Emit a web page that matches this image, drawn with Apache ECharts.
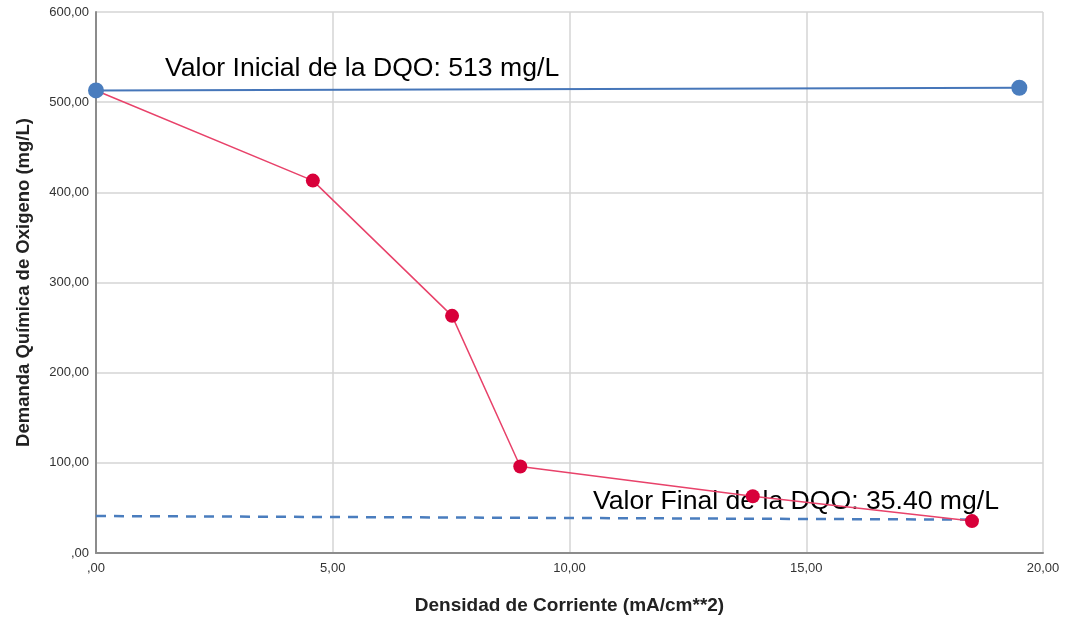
<!DOCTYPE html>
<html>
<head>
<meta charset="utf-8">
<script src="https://cdn.jsdelivr.net/npm/echarts@6/dist/echarts.min.js"></script>
<style>
  html, body { margin: 0; padding: 0; background: #fff; }
  #chart { width: 1066px; height: 619px; }
</style>
</head>
<body>
<div id="chart"></div>
<script>
// Current density (mA/cm**2) and measured COD (mg/L)
const densidad = [0, 4.58, 7.52, 8.96, 13.87, 18.5];
const dqo = [513, 413, 263, 96, 63, 35.4];

// Reference line for the initial COD
const inicialX = [0, 19.5];
const inicialY = [513, 516];

// Reference line for the final COD
const finalX = [0, 18.5];
const finalY = [41, 37];

const xTicks = [0, 5, 10, 15, 20];
const yTicks = [0, 100, 200, 300, 400, 500, 600];

const textoInicial = 'Valor Inicial de la DQO: 513 mg/L';
const textoFinal = 'Valor Final de la DQO: 35.40 mg/L';

const fmt = v => v === 0 ? ',00' : v.toFixed(2).replace('.', ',');
const pairs = (xs, ys) => xs.map((x, i) => [x, ys[i]]);
const FONT = 'Liberation Sans, Arial, sans-serif';

const chart = echarts.init(document.getElementById('chart'));
chart.setOption({
  animation: false,
  textStyle: { fontFamily: FONT },
  grid: { left: 96, right: 23, top: 12, bottom: 66, containLabel: false, outerBoundsMode: 'none' },
  xAxis: {
    type: 'value',
    min: xTicks[0], max: xTicks[xTicks.length - 1], interval: 5,
    name: 'Densidad de Corriente (mA/cm**2)',
    nameLocation: 'middle', nameGap: 43,
    nameTextStyle: { fontSize: 19, fontWeight: 'bold', color: '#222' },
    axisLine: { show: true, onZero: false, lineStyle: { color: '#8c8c8c', width: 2 } },
    axisTick: { show: false },
    axisLabel: { formatter: fmt, fontSize: 13, color: '#333', margin: 9 },
    splitLine: { show: true, lineStyle: { color: '#d4d4d4', width: 1.5 } }
  },
  yAxis: {
    type: 'value',
    min: yTicks[0], max: yTicks[yTicks.length - 1], interval: 100,
    name: 'Demanda Química de Oxigeno (mg/L)',
    nameLocation: 'middle', nameGap: 63, nameRotate: 90,
    nameTextStyle: { fontSize: 18.5, fontWeight: 'bold', color: '#222' },
    axisLine: { show: true, lineStyle: { color: '#8c8c8c', width: 2 } },
    axisTick: { show: false },
    axisLabel: { formatter: fmt, fontSize: 13, color: '#333', margin: 7, padding: [5, 0, 0, 0] },
    splitLine: { show: true, lineStyle: { color: '#d4d4d4', width: 1.5 } }
  },
  series: [
    {
      name: 'final',
      type: 'line',
      data: pairs(finalX, finalY),
      symbol: 'none',
      lineStyle: { color: '#4a7dbe', width: 2.5, type: [10, 8] },
      z: 3
    },
    {
      name: 'DQO',
      type: 'line',
      data: pairs(densidad, dqo),
      symbol: 'circle', symbolSize: 14,
      lineStyle: { color: '#e8426a', width: 1.5 },
      itemStyle: { color: '#d8003a' },
      z: 4
    },
    {
      name: 'inicial',
      type: 'line',
      data: pairs(inicialX, inicialY),
      symbol: 'circle', symbolSize: 16,
      lineStyle: { color: '#4676b9', width: 2 },
      itemStyle: { color: '#4a7dbe' },
      z: 5
    }
  ],
  graphic: [
    {
      type: 'text', left: 165, top: 55, z: 1,
      style: { text: textoInicial, fontSize: 26.6, fill: '#000', fontFamily: FONT }
    },
    {
      type: 'text', left: 593, top: 488, z: 1,
      style: { text: textoFinal, fontSize: 26.6, fill: '#000', fontFamily: FONT }
    }
  ]
});
</script>
</body>
</html>
